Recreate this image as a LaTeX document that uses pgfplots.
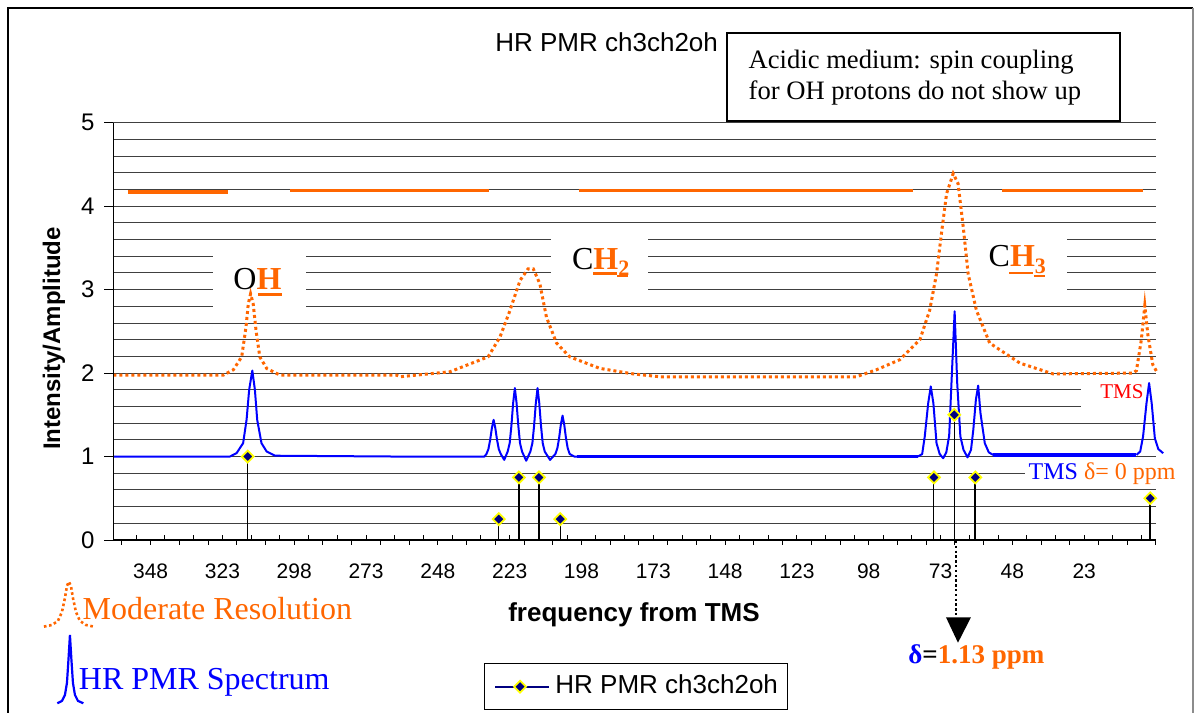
\documentclass[border=0pt]{standalone}
\usepackage{fontspec}
\setmainfont{Liberation Serif}
\newfontfamily\arial{Liberation Sans}
\usepackage{pgfplots}
\pgfplotsset{compat=1.18}
\definecolor{orng}{HTML}{FF6600}
\definecolor{navyc}{HTML}{000080}
\definecolor{blu}{HTML}{0000FF}
\definecolor{ylw}{HTML}{FFFF00}
\definecolor{rd}{HTML}{FF0000}
\pgfplotsset{
  orthick/.style={orng, line width=1.6bp, no markers, forget plot},
  bthin/.style={blu, line width=1bp, no markers, forget plot, line join=round},
  bthick/.style={blu, line width=1.7bp, no markers, forget plot},
  stem/.style={ycomb, black, forget plot, mark=square*, mark size=2.1bp,
    mark options={rotate=45, fill=navyc, draw=ylw, line width=0.9bp, solid}},
}
\begin{document}
\begin{tikzpicture}
\useasboundingbox (0,0) rectangle (597.5bp,-356.5bp);
\begin{axis}[
  at={(56.65bp,-270bp)}, anchor=south west,
  scale only axis, width=521.35bp, height=208.65bp,
  xmin=-2, xmax=361, ymin=0, ymax=5, x dir=reverse,
  clip=false,
  axis line style={draw=none},
  major tick length=0pt, minor tick length=0pt,
  xtick={348,323,298,273,248,223,198,173,148,123,98,73,48,23},
  ytick={0,0.2,0.4,0.6,0.8,1,1.2,1.4,1.6,1.8,2,2.2,2.4,2.6,2.8,3,3.2,3.4,3.6,3.8,4,4.2,4.4,4.6,4.8,5},
  yticklabels={0,,,,,1,,,,,2,,,,,3,,,,,4,,,,,5},
  ymajorgrids, grid style={line width=0.5bp, black!75},
  xticklabel style={font=\arial\fontsize{10.5bp}{12bp}\selectfont, anchor=north, inner sep=0pt, text height=7.5bp, text depth=0pt, yshift=-11.5bp},
  yticklabel style={font=\arial\fontsize{12bp}{14bp}\selectfont, anchor=east, inner sep=0pt, xshift=-9.15bp},
  /pgf/number format/assume math mode=true,
  legend style={at={(0.3555,-0.2955)}, anchor=north west, draw=black, line width=0.5bp, fill=white,
    inner xsep=4.9bp, inner ysep=5.4bp, font=\arial\fontsize{13bp}{15bp}\selectfont,
    nodes={inner sep=0pt, text height=9.4bp, text depth=2.7bp},
    /tikz/every odd column/.append style={column sep=2.9bp}},
  legend cell align=left,
  legend image code/.code={\draw[mark repeat=2,mark phase=2,#1] plot coordinates {(0bp,0bp) (12.45bp,0bp) (26.8bp,0bp)};},
]
% white label boxes (behind the curves, above the grid)
\fill[white] (axis cs:326.3,2.695) rectangle (axis cs:294.0,3.533);
\fill[white] (axis cs:208.67,2.898) rectangle (axis cs:174.9,3.737);
\fill[white] (axis cs:63.52,2.898) rectangle (axis cs:29.07,3.737);
\fill[white] (axis cs:24.2,1.48) rectangle (axis cs:-3,1.9);
\fill[white] (axis cs:43.7,0.671) rectangle (axis cs:-3,0.922);

% orange thick bars at 4.2
\addplot[orthick] coordinates {(356.0,4.17) (321.2,4.17)};
\addplot[orthick] coordinates {(299.5,4.19) (230.3,4.19)};
\addplot[orthick] coordinates {(199.0,4.19) (82.6,4.19)};
\addplot[orthick] coordinates {(51.6,4.19) (2.5,4.19)};

% moderate resolution spectrum
\addplot[orng, line width=1.5bp, dash pattern=on 1.5bp off 1.5bp, no markers, forget plot] coordinates {
(361,1.976) (322.7,1.976) (319.2,2.04) (316.3,2.195) (314.8,2.55) (314.0,2.83) (313.2,2.95) (312.3,2.83) (311.3,2.51) (310,2.195) (307.6,2.056) (303,1.976) (262.4,1.976) (261.2,1.956) (243.8,2.016) (230.5,2.195) (226.4,2.43) (222.9,2.75) (219.4,3.11) (216.6,3.25) (214.8,3.25) (212.5,3.07) (210.2,2.67) (206.7,2.36) (202.1,2.195) (191.6,2.056) (180,1.99) (170.7,1.956) (102.3,1.956) (95.3,2.04) (87.2,2.16) (80.2,2.4) (76.8,2.75) (74.4,3.19) (72.7,3.67) (70.9,4.15) (68.6,4.39) (66.9,4.27) (65.1,3.75) (63.4,3.19) (60.5,2.75) (55.9,2.36) (45.4,2.12) (33.8,1.99) (6,2.0) (4.8,2.03) (3.1,2.4) (1.9,2.81) (0.8,2.45) (-0.9,2.1) (-2.6,1.996)};

% high resolution spectrum
\addplot[bthin] coordinates {
(361,1.0) (320.4,1.0) (318.1,1.04) (315.8,1.16) (314.6,1.44) (313.7,1.80) (312.6,2.03) (311.7,1.80) (310.9,1.44) (309.4,1.16) (307.6,1.06) (304.7,1.01) (262,1.0) (231.8,1.0) (231.1,1.03) (230.4,1.09) (229.8,1.20) (229.2,1.34) (228.6,1.44) (228.0,1.34) (227.4,1.20) (226.8,1.09) (226.1,1.03) (224.9,0.96) (223.7,1.06) (223.0,1.16) (222.4,1.37) (221.8,1.64) (221.2,1.82) (220.6,1.64) (220.0,1.37) (219.4,1.16) (218.7,1.06) (217.25,0.95) (215.8,1.06) (215.1,1.16) (214.5,1.37) (213.9,1.64) (213.3,1.82) (212.7,1.64) (212.1,1.37) (211.5,1.16) (210.8,1.06) (208.95,0.96) (207.1,1.03) (206.4,1.10) (205.8,1.22) (205.2,1.38) (204.6,1.49) (204.0,1.38) (203.4,1.22) (202.8,1.10) (202.1,1.03) (200.5,1.0) (199.5,1.0)};
\addplot[bthick] coordinates {(199.5,1.0) (80.9,1.0)};
\addplot[bthin] coordinates {
(80.9,1.0) (79.4,1.03) (78.5,1.24) (77.3,1.64) (76.4,1.84) (75.5,1.64) (74.4,1.16) (73.3,1.03) (72.1,0.98) (71.0,1.05) (70.0,1.25) (69.2,1.88) (68.1,2.74) (67.2,1.88) (66.1,1.24) (65.0,1.08) (63.6,0.99) (62.4,1.08) (61.6,1.32) (60.7,1.68) (59.9,1.85) (59.1,1.52) (57.6,1.16) (56.2,1.05) (54.7,1.02)};
\addplot[bthick] coordinates {(54.7,1.02) (4.8,1.02)};
\addplot[bthin] coordinates {
(4.8,1.02) (3.5,1.06) (2.5,1.24) (1.3,1.64) (0.4,1.88) (-0.5,1.64) (-1.6,1.22) (-2.8,1.09) (-4.5,1.04)};

% stick spectrum: HR PMR ch3ch2oh
\addplot[stem, line width=0.5bp] coordinates {(314.2,1) (226.8,0.25) (205.4,0.25) (75.3,0.75) (68.2,1.5)};
\addplot[stem, line width=0.9bp] coordinates {(219.8,0.75) (212.8,0.75) (60.9,0.75) (0,0.5)};
\addlegendimage{navyc, line width=0.9bp, mark=square*, mark size=2.1bp, mark options={rotate=45, fill=navyc, draw=ylw, line width=0.9bp}}
\addlegendentry{HR PMR ch3ch2oh}

% key glyphs at lower left
\addplot[orng, line width=1.3bp, dash pattern=on 1.3bp off 1.3bp, no markers, forget plot] coordinates {
(385.14,-1.038) (382.35,-1.018) (380.27,-0.970) (378.87,-0.862) (377.83,-0.695) (377.13,-0.551) (376.47,-0.499) (375.74,-0.551) (375.04,-0.695) (374.0,-0.862) (372.61,-0.970) (370.52,-1.018) (367.81,-1.038)};
\addplot[blu, line width=1.1bp, no markers, forget plot] coordinates {
(380.47,-1.956) (378.87,-1.928) (377.83,-1.856) (377.13,-1.713) (376.61,-1.437) (376.09,-1.138) (375.57,-1.437) (375.04,-1.713) (374.35,-1.856) (373.30,-1.928) (371.42,-1.956)};

% ticks and axis lines
\pgfplotsinvokeforeach{358,348,...,-2}{\draw[black,line width=0.5bp] (axis cs:#1,0) -- ++(0bp,-2.5bp);}
\pgfplotsinvokeforeach{353,343,...,3}{\draw[black,line width=0.5bp] (axis cs:#1,0) -- ++(0bp,2.5bp);}
\pgfplotsinvokeforeach{0,1,2,3,4,5}{\draw[black,line width=0.5bp] (axis cs:361,#1) -- ++(-4.5bp,0bp);}
\draw[black,line width=0.7bp] (axis cs:361,5) -- (axis cs:361,0) -- (axis cs:-2,0);
\end{axis}

\begin{scope}[x=0.5bp, y=-0.5bp]
% frame
\draw[black, line width=1.4bp] (8,713) -- (8,8) -- (1193,8);
\draw[black!45, line width=0.6bp] (1193,8) -- (1193,713);
% title
\node[anchor=base west, inner sep=0pt, font=\arial\fontsize{13bp}{15bp}\selectfont] at (495,51) {HR PMR ch3ch2oh};
% note box
\draw[line width=1bp, fill=white] (726.7,33) rectangle (1120,120.7);
\node[anchor=base west, inner sep=0pt, font=\fontsize{13.3bp}{16bp}\selectfont] at (748.3,68.3) {Acidic medium: spin coupling};
\node[anchor=base west, inner sep=0pt, font=\fontsize{13.3bp}{16bp}\selectfont] at (748.3,100) {for OH protons do not show up};
% group labels
\node[anchor=base west, inner sep=0pt, font=\fontsize{16bp}{19bp}\selectfont] at (233,289.3) {O\textcolor{orng}{\textbf{H}}};
\fill[orng] (258,293.3) rectangle (282,296);
\node[anchor=base west, inner sep=0pt, font=\fontsize{16bp}{19bp}\selectfont] at (571.7,269.3) {C\textcolor{orng}{\textbf{H}}\raisebox{-2.9bp}{\fontsize{11bp}{13bp}\selectfont\textcolor{orng}{\textbf{2}}}};
\fill[orng] (592.7,272) rectangle (616.7,275);
\fill[orng] (617,275) rectangle (627.7,276.7);
\node[anchor=base west, inner sep=0pt, font=\fontsize{16bp}{19bp}\selectfont] at (988.3,266.7) {C\textcolor{orng}{\textbf{H}}\raisebox{-3.3bp}{\fontsize{11bp}{13bp}\selectfont\textcolor{orng}{\textbf{3}}}};
\fill[orng] (1009.3,271.7) rectangle (1033.3,274.3);
\fill[orng] (1034,275) rectangle (1045,276.7);
\node[anchor=base west, inner sep=0pt, font=\fontsize{10.5bp}{12bp}\selectfont, text=rd] at (1100,398.3) {TMS};
\node[anchor=base west, inner sep=0pt, font=\fontsize{12bp}{14bp}\selectfont] at (1028.3,480) {\textcolor{blu}{TMS }\textcolor{orng}{δ= 0 ppm}};
% axis titles
\node[anchor=base, inner sep=0pt, font=\arial\bfseries\fontsize{13bp}{15bp}\selectfont] at (634,621.7) {frequency from TMS};
\node[anchor=base, rotate=90, inner sep=0pt, font=\arial\bfseries\fontsize{12bp}{14bp}\selectfont] at (60,338.6) {Intensity/Amplitude};
% delta marker
\draw[black, line width=1.2bp, dash pattern=on 1.2bp off 1.2bp] (956,541) -- (956,617);
\fill[black] (946,617.3) -- (971,617.3) -- (958,642.7) -- cycle;
\node[anchor=base west, inner sep=0pt, font=\bfseries\fontsize{13.5bp}{16bp}\selectfont] at (908,663.3) {\textcolor{blu}{δ}=\textcolor{orng}{1.13 ppm}};
% key texts
\node[anchor=base west, inner sep=0pt, font=\fontsize{16bp}{19bp}\selectfont, text=orng] at (82.3,619.3) {Moderate Resolution};
\node[anchor=base west, inner sep=0pt, font=\fontsize{16bp}{19bp}\selectfont, text=blu] at (78.5,689.3) {HR PMR Spectrum};
\end{scope}
\end{tikzpicture}
\end{document}
